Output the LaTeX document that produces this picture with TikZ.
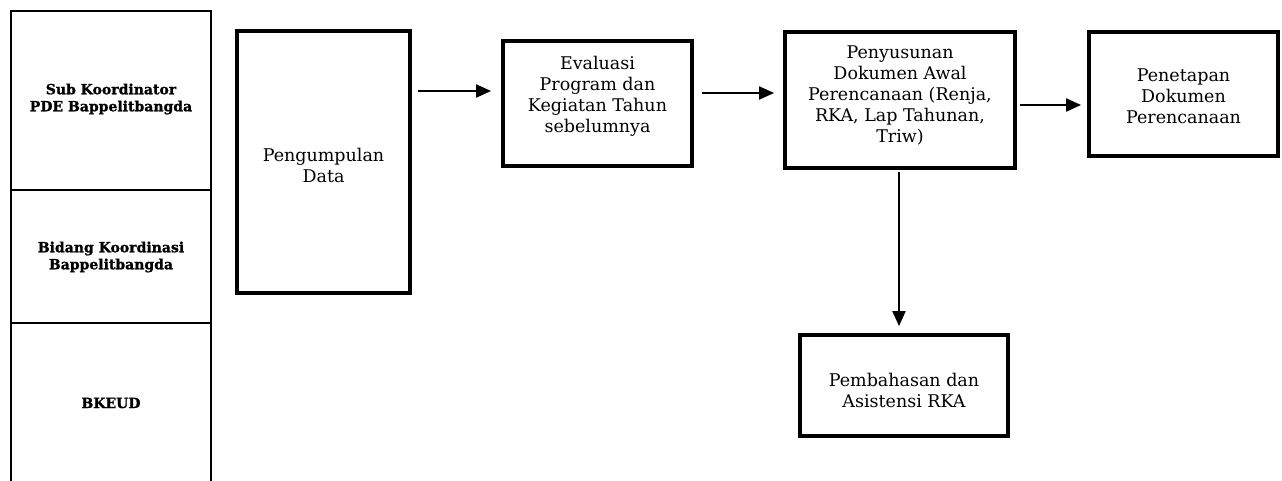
\documentclass[tikz,border=0pt]{standalone}
\usepackage{fontspec}
\usetikzlibrary{arrows.meta}
\setmainfont{DejaVu Serif}
\newfontfamily\lanefont[BoldFeatures={FakeBold=1.2}]{DejaVu Serif}
\begin{document}
\begin{tikzpicture}[x=1pt,y=-1pt,
  lane/.style={draw,line width=1.6pt},
  lanetext/.style={font=\lanefont\bfseries\fontsize{14}{17}\selectfont,align=center},
  proc/.style={draw,line width=3.8pt,inner sep=0pt},
  proctext/.style={align=center,inner sep=0pt,font=\fontsize{17.5}{21}\selectfont},
  flow/.style={line width=2pt,-{Triangle[length=15pt,width=13pt]}}]
\useasboundingbox (0,0) rectangle (1282,481);
% swimlane column
\draw[lane] (11,490) -- (11,11) -- (211,11) -- (211,490);
\draw[lane] (11,190) -- (211,190);
\draw[lane] (11,323) -- (211,323);
\node[lanetext] (l1) at (111,99) {Sub Koordinator\\PDE Bappelitbangda};
\node[lanetext] (l2) at (111,257) {Bidang Koordinasi\\Bappelitbangda};
\node[lanetext] (l3) at (111,403) {BKEUD};
% process boxes
\node[proc,minimum width=173pt,minimum height=262pt] (pd) at (323.5,162) {};
\node[proc,minimum width=189pt,minimum height=125pt] (ev) at (597.5,103.5) {};
\node[proc,minimum width=230pt,minimum height=136pt] (ps) at (900,100) {};
\node[proc,minimum width=189pt,minimum height=124pt] (pt) at (1183.5,94) {};
\node[proc,minimum width=208pt,minimum height=101pt] (pb) at (904,385.5) {};
% box labels
\node[proctext] (pd-t) at (323.5,165) {Pengumpulan\\Data};
\node[proctext] (ev-t) at (597.5,96.5) {Evaluasi\\Program dan\\Kegiatan Tahun\\sebelumnya};
\node[proctext] (ps-t) at (900,95.5) {Penyusunan\\Dokumen Awal\\Perencanaan (Renja,\\RKA, Lap Tahunan,\\Triw)};
\node[proctext] (pt-t) at (1183.5,96) {Penetapan\\Dokumen\\Perencanaan};
\node[proctext] (pb-t) at (904,390) {Pembahasan dan\\Asistensi RKA};
% connectors
\draw[flow] ([xshift=6pt,yshift=71pt]pd.east) -- ([xshift=-10pt,yshift=12.5pt]ev.west);
\draw[flow] ([xshift=8pt,yshift=10.5pt]ev.east) -- ([xshift=-9pt,yshift=7pt]ps.west);
\draw[flow] ([xshift=3pt,yshift=-5pt]ps.east) -- ([xshift=-6pt,yshift=-11pt]pt.west);
\draw[flow] ([xshift=-1pt,yshift=-2pt]ps.south) -- ([xshift=-5pt,yshift=7pt]pb.north);
\end{tikzpicture}
\end{document}
